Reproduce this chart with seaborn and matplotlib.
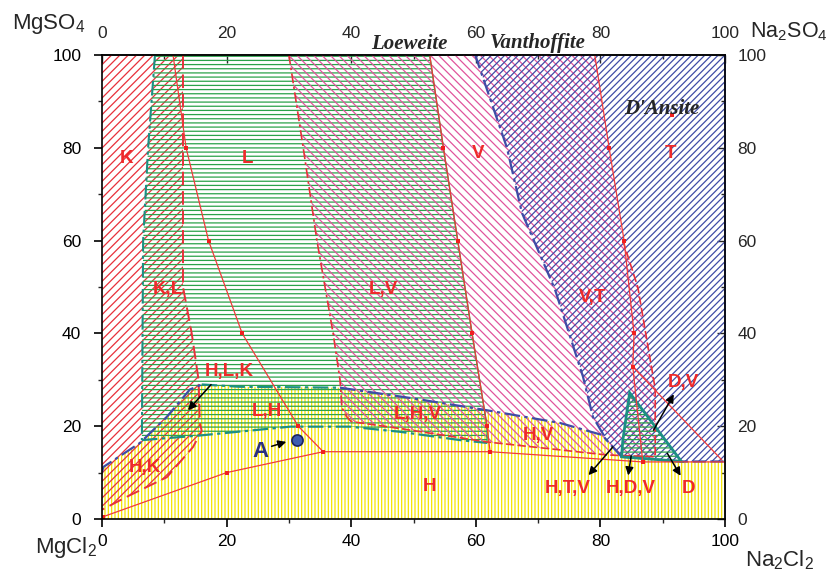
import matplotlib
matplotlib.use("Agg")
import numpy as np
import pandas as pd
import seaborn as sns
import matplotlib.pyplot as plt
from matplotlib.patches import Polygon
from matplotlib.ticker import MultipleLocator

sns.set_theme(style="ticks")
plt.rcParams['font.family'] = ['Liberation Sans', 'DejaVu Sans']
plt.rcParams['mathtext.default'] = 'regular'
plt.rcParams['hatch.linewidth'] = 0.9

# ---- crystallisation fields (x = Na2Cl2 %, y = MgSO4 %) ----
halite_x = [0, 100, 100, 93, 83.5, 81, 80.3, 73.5, 61.5, 49.4, 38.2, 22, 16, 14.1, 10.4, 6.1, 0.2, 0]
halite_y = [0, 0, 12.4, 12.4, 13.4, 17, 18.1, 20.7, 23.5, 26.1, 28.3, 28.5, 29, 27.9, 22, 16.4, 11.2, 10]

kieserite_x = [0, 13, 13, 14.4, 15.5, 15.7, 16, 14.6, 10.4, 4, 0]
kieserite_y = [100, 100, 50, 40, 30, 20.7, 19, 15.5, 9, 4.8, 2]

loeweite_x = [8.5, 52.6, 54.8, 57.1, 59.4, 61.8, 61.8, 57.5, 47.8, 39.8, 30.2, 15.7, 6.4, 6.6, 7.4]
loeweite_y = [100, 100, 80, 60, 40, 20, 16.4, 17, 18.8, 19.9, 19.9, 18, 17, 60, 80]

vanthoffite_x = [30, 79.1, 81.4, 83.6, 86, 88.8, 88.8, 81, 73.5, 61.8, 57.5, 47.8, 40, 39.3, 38.5, 38.2, 37.1, 34.5, 32.3]
vanthoffite_y = [100, 100, 80, 60, 50, 28, 13.4, 13.8, 14.9, 16.6, 17.5, 19.5, 21, 22, 24, 30, 40, 60, 80]

dansite_x = [59.9, 100, 100, 93, 83.4, 81, 78.8, 77.2, 72.7, 67.4, 65]
dansite_y = [100, 100, 12.4, 12.4, 13.4, 17, 22, 30.7, 49.5, 66, 80]

dfield_x = [84.7, 83.6, 83.4, 93]
dfield_y = [27.2, 17, 13.4, 12.4]

# upper limit of the halite field, split by line colour
halite_top_left_x = [0, 0.2, 6.1, 10.4, 14.1, 16]
halite_top_left_y = [10, 11.2, 16.4, 22, 27.9, 29]
halite_top_mid_x = [16, 22, 38.2]
halite_top_mid_y = [29, 28.5, 28.3]
halite_top_right_x = [38.2, 49.4, 61.5, 73.5, 80.3, 81]
halite_top_right_y = [28.3, 26.1, 23.5, 20.7, 18.1, 17]

# ---- tie lines through the measured points ----
tie_lines = {
    "t1": ([11.4, 13.5, 17.1, 22.5, 31.5, 35.5], [100, 80, 60, 40, 20, 14.5]),
    "t2": ([0.2, 20, 35.5], [0.5, 10, 14.5]),
    "t3": ([35.5, 62.3, 86.8, 100], [14.5, 14.5, 12.3, 12.3]),
    "t4": ([52.6, 54.8, 57.1, 59.4, 61.8, 62.3], [100, 80, 60, 40, 20, 14.5]),
    "t5": ([79.1, 81.4, 83.8, 85.4, 85.2, 86.8], [100, 80, 60, 40, 32.8, 12.3]),
    "t6": ([85.2, 99.5], [32.8, 12.7]),
}
point_x = [13.5, 17.1, 22.5, 31.5, 35.5, 0.2, 20, 62.3, 86.8, 54.8, 57.1, 59.4, 61.8,
           81.4, 83.8, 85.4, 85.2, 91.5]
point_y = [80, 60, 40, 20, 14.5, 0.5, 10, 14.5, 12.3, 80, 60, 40, 20,
           80, 60, 40, 32.8, 87]

field_labels = ["K", "L", "V", "T", "K,L", "L,V", "V,T", "H,L,K", "L,H", "L,H,V",
                "H,V", "H,K", "H", "H,T,V", "H,D,V", "D", "D,V"]
label_x = [4.0, 23.3, 60.4, 91.3, 10.6, 45.1, 78.7, 20.5, 26.5, 50.7,
           70.0, 6.9, 52.6, 74.8, 84.8, 94.2, 93.3]
label_y = [77.7, 77.7, 78.8, 78.8, 49.5, 49.5, 47.7, 31.7, 23.1, 22.5,
           17.9, 11.2, 6.9, 6.5, 6.5, 6.5, 29.4]

ticks = [0, 20, 40, 60, 80, 100]

RED = "#e8303a"
YELLOW = "#f4e400"
GREEN = "#2aa24a"
PINK = "#e0559c"
BLUE = "#3f4ca6"
TEAL = "#1c8f84"
DASHDOT = (0, (7, 2, 1.5, 2))

fig = plt.figure(figsize=(8.32, 5.75), dpi=100)
ax = fig.add_axes([0.1226, 0.0974, 0.7488, 0.8069])
ax.set_facecolor("white")


def field(xs, ys, color, hatch, z):
    ax.add_patch(Polygon(np.column_stack([xs, ys]), closed=True, facecolor="none",
                         edgecolor=color, linewidth=0, hatch=hatch, zorder=z))


field(halite_x, halite_y, YELLOW, "|||||", 1)
field(kieserite_x, kieserite_y, RED, "////", 2)
field(loeweite_x, loeweite_y, GREEN, "----", 2)
field(vanthoffite_x, vanthoffite_y, PINK, "\\\\\\\\", 3)
field(dansite_x, dansite_y, BLUE, "/////", 3)
field(dfield_x, dfield_y, GREEN, "----", 4)

# field boundaries
ax.plot(kieserite_x[1:], kieserite_y[1:], color=RED, lw=1.4, ls=(0, (7, 3)), zorder=5)
ax.plot([8.5, 7.4, 6.6, 6.4], [100, 80, 60, 17], color=TEAL, lw=1.5, ls=DASHDOT, zorder=5)
ax.plot([6.4, 15.7, 30.2, 39.8, 47.8, 57.5, 61.8], [17, 18, 19.9, 19.9, 18.8, 17, 16.4],
        color=TEAL, lw=1.6, ls=DASHDOT, zorder=5)
ax.plot(loeweite_x[1:7], loeweite_y[1:7], color=GREEN, lw=1.0, zorder=5)
ax.plot(vanthoffite_x[12:] + [30], vanthoffite_y[12:] + [100], color=RED, lw=1.2,
        ls=(0, (6, 2, 1.5, 2)), zorder=5)
ax.plot(vanthoffite_x[3:13], vanthoffite_y[3:13], color=RED, lw=1.2, ls=(0, (5, 2)), zorder=5)
ax.plot(dansite_x[4:] + [59.9], dansite_y[4:] + [100], color=BLUE, lw=1.6, ls=DASHDOT, zorder=5)
ax.plot([83.4, 93, 100], [13.4, 12.4, 12.4], color=BLUE, lw=1.6, ls=(0, (6, 2)), zorder=5)
ax.plot(halite_top_left_x, halite_top_left_y, color=BLUE, lw=1.6, ls=DASHDOT, zorder=5)
ax.plot(halite_top_mid_x, halite_top_mid_y, color=TEAL, lw=1.6, ls=DASHDOT, zorder=5)
ax.plot(halite_top_right_x, halite_top_right_y, color=BLUE, lw=1.6, ls=DASHDOT, zorder=5)
ax.add_patch(Polygon(np.column_stack([dfield_x, dfield_y]), closed=True, facecolor="none",
                     edgecolor=TEAL, linewidth=2.0, zorder=6))

# tie lines and experimental points
tie_df = pd.concat([pd.DataFrame({"x": xs, "y": ys, "line": name})
                    for name, (xs, ys) in tie_lines.items()], ignore_index=True)
sns.lineplot(data=tie_df, x="x", y="y", units="line", estimator=None, sort=False,
             color="#f03a3a", lw=0.9, ax=ax, zorder=7)
sns.scatterplot(x=point_x, y=point_y, marker="s", s=10, color="#f02020",
                linewidth=0, ax=ax, zorder=8)

# field labels
for t, x, y in zip(field_labels, label_x, label_y):
    ax.text(x, y, t, color="#ee2a2a", fontsize=13.5, fontweight="bold",
            ha="center", va="center", zorder=10)

# point A
ax.text(25.5, 14.5, "A", color="#2b2f80", fontsize=16, fontweight="bold",
        ha="center", va="center", zorder=10)
ax.plot([31.3], [17.1], marker="o", ms=8, mfc="#3c5cb0", mec="#1a2260", mew=1.2, zorder=10)

arrow = dict(arrowstyle="-|>", color="black", lw=1.1, mutation_scale=12)
arrows = [((26.8, 15.5), (30.0, 16.8)),
          ((17.8, 29.4), (13.5, 23.0)),
          ((82.3, 16.0), (77.8, 9.0)),
          ((85.0, 14.2), (84.4, 8.8)),
          ((90.5, 14.7), (93.1, 8.8)),
          ((88.3, 18.6), (92.0, 27.4))]
for (x0, y0), (x1, y1) in arrows:
    ax.annotate("", xy=(x1, y1), xytext=(x0, y0), arrowprops=arrow, zorder=11)

# salt names
serif = dict(family=["Liberation Serif", "DejaVu Serif"], style="italic", weight="bold",
             fontsize=15, ha="center", va="center")
ax.text(49.4, 102.4, "Loeweite", clip_on=False, **serif)
ax.text(70.0, 102.6, "Vanthoffite", clip_on=False, **serif)
ax.text(89.9, 88.3, "D'Ansite", zorder=10, **serif)

# axes
ax.set_xlim(0, 100)
ax.set_ylim(0, 100)
ax.set_xlabel("")
ax.set_ylabel("")
ax.set_xticks(ticks)
ax.set_yticks(ticks)
ax.xaxis.set_minor_locator(MultipleLocator(10))
ax.yaxis.set_minor_locator(MultipleLocator(10))
ax.tick_params(axis="both", which="major", direction="out", length=6, width=1.2,
               labelsize=12.5, colors="black")
ax.tick_params(axis="x", which="major", pad=5)
ax.tick_params(axis="y", which="major", pad=9)
ax.tick_params(axis="both", which="minor", direction="out", length=3, width=1.0)
for s in ax.spines.values():
    s.set_visible(True)
    s.set_color("black")
    s.set_linewidth(1.2)
    s.set_zorder(12)

top = ax.secondary_xaxis("top")
top.set_xticks(ticks)
top.xaxis.set_minor_locator(MultipleLocator(10))
top.tick_params(which="major", direction="in", length=6, width=1.0, labelsize=12.5, pad=10)
top.tick_params(which="minor", direction="in", length=3, width=1.0)
right = ax.secondary_yaxis("right")
right.set_yticks(ticks)
right.yaxis.set_minor_locator(MultipleLocator(10))
right.tick_params(which="major", direction="in", length=6, width=1.0, labelsize=12.5, pad=9)
right.tick_params(which="minor", direction="in", length=3, width=1.0)
right.spines["right"].set_color("#3f4ca6")

fig.text(12 / 832, 1 - 24 / 575, "MgSO$_4$", fontsize=16, ha="left", va="center")
fig.text(750 / 832, 1 - 32 / 575, "Na$_2$SO$_4$", fontsize=15.5, ha="left", va="center")
fig.text(35 / 832, 1 - 548 / 575, "MgCl$_2$", fontsize=16, ha="left", va="center")
fig.text(745 / 832, 1 - 560 / 575, "Na$_2$Cl$_2$", fontsize=16, ha="left", va="center")

fig.savefig("out.png", dpi=100, facecolor="white")
